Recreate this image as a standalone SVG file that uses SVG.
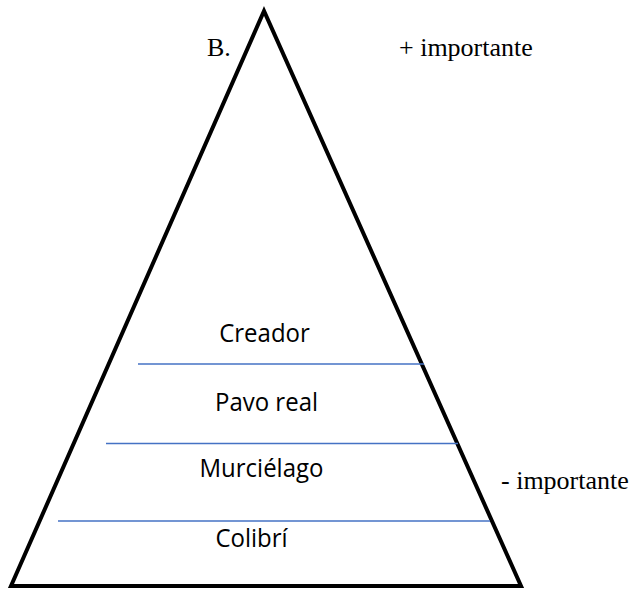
<svg xmlns="http://www.w3.org/2000/svg" width="637" height="592" viewBox="0 0 637 592">
<style>
.serif{font-family:"Liberation Serif","DejaVu Serif",serif;font-size:26px;fill:#000}
.sans{font-family:"Open Sans","Liberation Sans",sans-serif;font-size:24px;fill:#000;text-anchor:middle}
.sep{stroke:#4472C4;stroke-width:1.5}
</style>
<rect width="637" height="592" fill="#fff"/>
<g id="pyramid">
<polygon points="264,11 11,586 521,586" fill="none" stroke="#000" stroke-width="4" stroke-linejoin="miter"/>
</g>
<g id="separators">
<line class="sep" x1="138" y1="364" x2="424" y2="364"/>
<line class="sep" x1="106" y1="443.5" x2="458" y2="443.5"/>
<line class="sep" x1="58" y1="521" x2="490" y2="521"/>
</g>
<g id="level-creador"><text class="sans" x="264.5" y="342" transform="translate(0,342) scale(1,1.08) translate(0,-342)">Creador</text></g>
<g id="level-pavo"><text class="sans" x="266.5" y="411" transform="translate(0,411) scale(1,1.08) translate(0,-411)">Pavo real</text></g>
<g id="level-murcielago"><text class="sans" x="261.5" y="477" transform="translate(0,477) scale(1,1.08) translate(0,-477)">Murciélago</text></g>
<g id="level-colibri"><text class="sans" x="251.5" y="547" transform="translate(0,547) scale(1,1.08) translate(0,-547)">Colibrí</text></g>
<g id="labels">
<text class="serif" x="207" y="56">B.</text>
<text class="serif" x="399" y="56">+ importante</text>
<text class="serif" x="501" y="489">- importante</text>
</g>
</svg>
